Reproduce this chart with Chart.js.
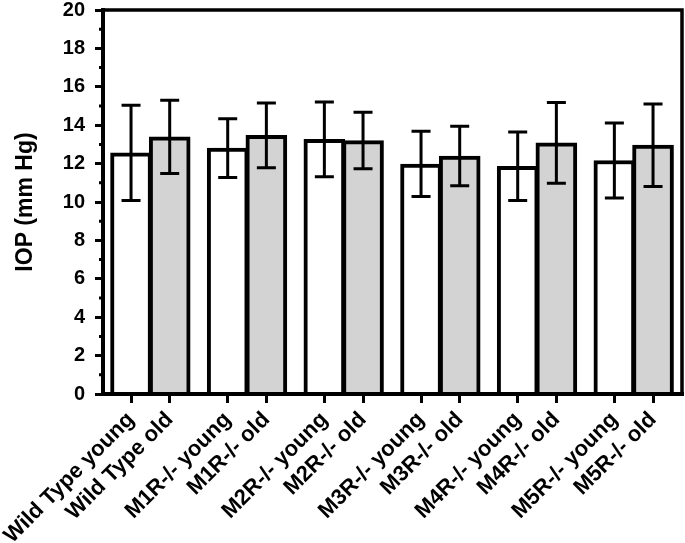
<!DOCTYPE html>
<html>
<head>
<meta charset="utf-8">
<script src="https://cdn.jsdelivr.net/npm/chart.js@4.4.1/dist/chart.umd.min.js"></script>
<style>
  html, body { margin: 0; padding: 0; background: #fff; }
  #wrap { width: 685px; height: 543px; }
</style>
</head>
<body>
<div id="wrap"><canvas id="myChart"></canvas></div>
<script>
// values (mean and SD, mm Hg)
var groups = ['Wild Type', 'M1R-/-', 'M2R-/-', 'M3R-/-', 'M4R-/-', 'M5R-/-'];
var youngMean = [12.56, 12.81, 13.26, 11.98, 11.86, 12.16];
var youngSD   = [2.48, 1.53, 1.95, 1.70, 1.78, 1.95];
var oldMean   = [13.39, 13.47, 13.20, 12.39, 13.08, 12.96];
var oldSD     = [1.91, 1.68, 1.47, 1.55, 2.10, 2.15];
var yMin = 0, yMax = 20, yStep = 2;

var labels = [];
groups.forEach(function(g) {
  labels.push(g + ' young');
  labels.push(g + ' old');
});

// pairs sit side by side, a gap between groups
var pairOffset = 0.4;
var positions = [];
groups.forEach(function(g, i) {
  positions.push(i);
  positions.push(i + pairOffset);
});

function points(means, k) {
  return means.map(function(m, i) { return { x: i + k * pairOffset, y: m }; });
}

var font = 'Liberation Sans';

// keep chart.js from adding its own label padding
function noPadding(scale) {
  scale.paddingLeft = 0;
  scale.paddingRight = 0;
  scale.paddingTop = 0;
  scale.paddingBottom = 0;
}

var errorBars = {
  id: 'errorBars',
  afterDatasetsDraw: function(chart) {
    var ctx = chart.ctx, y = chart.scales.y;
    chart.data.datasets.forEach(function(ds, di) {
      var meta = chart.getDatasetMeta(di);
      meta.data.forEach(function(bar, i) {
        var top = y.getPixelForValue(ds.data[i].y + ds.sd[i]);
        var bot = y.getPixelForValue(ds.data[i].y - ds.sd[i]);
        ctx.save();
        ctx.strokeStyle = '#000';
        ctx.lineWidth = 3;
        ctx.beginPath();
        ctx.moveTo(bar.x, top); ctx.lineTo(bar.x, bot);
        ctx.moveTo(bar.x - 9.5, top); ctx.lineTo(bar.x + 9.5, top);
        ctx.moveTo(bar.x - 9.5, bot); ctx.lineTo(bar.x + 9.5, bot);
        ctx.stroke();
        ctx.restore();
      });
    });
  }
};

var frame = {
  id: 'frame',
  afterDraw: function(chart) {
    var ctx = chart.ctx, a = chart.chartArea, y = chart.scales.y;
    ctx.save();
    ctx.strokeStyle = '#000';
    ctx.lineWidth = 3.5;
    ctx.beginPath();
    ctx.moveTo(a.left, a.top);
    ctx.lineTo(a.right - 1, a.top);
    ctx.lineTo(a.right - 1, a.bottom);
    ctx.stroke();
    // x axis line again, over the bar bottoms
    ctx.lineWidth = 4;
    ctx.beginPath();
    ctx.moveTo(a.left, a.bottom);
    ctx.lineTo(a.right, a.bottom);
    ctx.stroke();
    // minor ticks
    ctx.lineWidth = 3;
    ctx.beginPath();
    for (var v = yMin + 1; v < yMax; v += yStep) {
      var py = y.getPixelForValue(v);
      ctx.moveTo(a.left - 4, py);
      ctx.lineTo(a.left, py);
    }
    ctx.stroke();
    ctx.restore();
  }
};

var ctx = document.getElementById('myChart').getContext('2d');

var chart = new Chart(ctx, {
  type: 'bar',
  data: {
    datasets: [{
      label: 'young',
      data: points(youngMean, 0),
      sd: youngSD,
      backgroundColor: '#ffffff',
      borderColor: '#000000',
      borderWidth: 4,
      barThickness: 41,
      grouped: false
    },
    {
      label: 'old',
      data: points(oldMean, 1),
      sd: oldSD,
      backgroundColor: '#d3d3d3',
      borderColor: '#000000',
      borderWidth: 4,
      barThickness: 41,
      grouped: false
    }]
  },
  options: {
    responsive: true,
    maintainAspectRatio: false,
    animation: false,
    layout: { padding: { top: 10, right: 2, left: 0, bottom: 0 } },
    plugins: { legend: { display: false }, tooltip: { enabled: false } },
    scales: {
      x: {
        type: 'linear',
        offset: false,
        min: -0.29,
        max: 5.71,
        afterBuildTicks: function(scale) {
          scale.ticks = positions.map(function(p) { return { value: p }; });
        },
        afterFit: function(scale) { scale.height = 149; noPadding(scale); },
        ticks: {
          autoSkip: false,
          minRotation: 45,
          maxRotation: 45,
          padding: 4,
          color: '#000',
          font: { family: font, size: 22, weight: 'bold' },
          callback: function(v, i) { return labels[i]; }
        },
        grid: { drawOnChartArea: false, offset: false, tickLength: 9, tickWidth: 3, tickColor: '#000' },
        border: { color: '#000', width: 4 }
      },
      y: {
        min: yMin,
        max: yMax,
        afterFit: function(scale) { scale.width = 103; noPadding(scale); },
        ticks: {
          stepSize: yStep,
          padding: 10,
          color: '#000',
          font: { family: font, size: 20, weight: 'bold' }
        },
        title: {
          display: true,
          text: 'IOP (mm Hg)',
          color: '#000',
          padding: { top: 12, bottom: 0 },
          font: { family: font, size: 23, weight: 'bold' }
        },
        grid: { drawOnChartArea: false, tickLength: 8, tickWidth: 3, tickColor: '#000' },
        border: { color: '#000', width: 4 }
      }
    }
  },
  plugins: [errorBars, frame]
});
</script>
</body>
</html>
